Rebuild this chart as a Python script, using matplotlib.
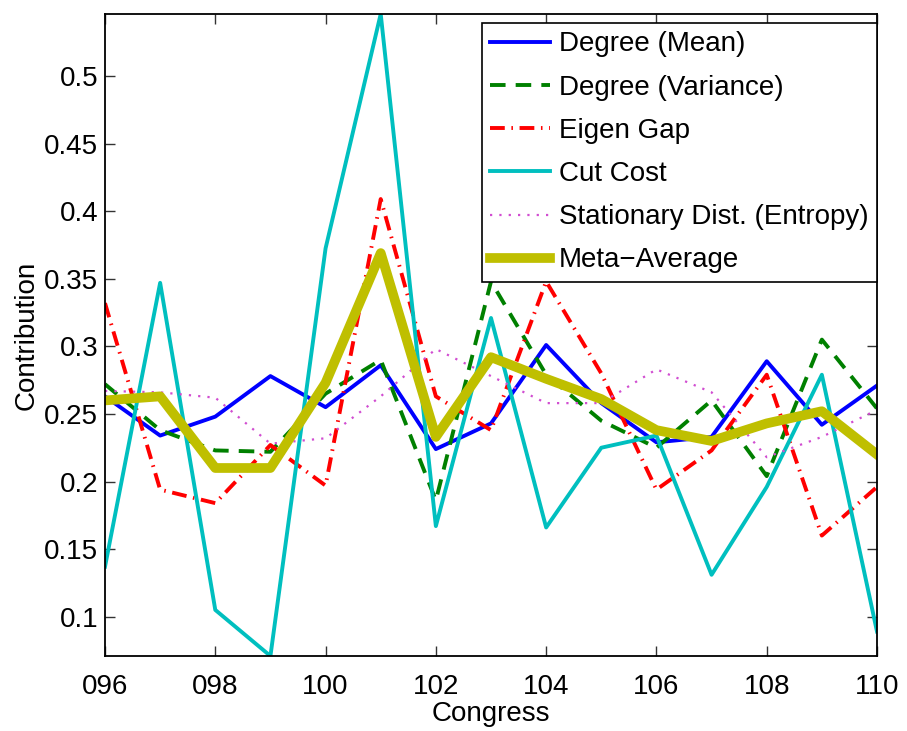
import numpy as np
import matplotlib
matplotlib.use("Agg")
import matplotlib.pyplot as plt

plt.rcParams['font.family'] = ['Liberation Sans', 'DejaVu Sans']

congress = np.arange(96, 111)
deg_mean = [0.263, 0.234, 0.248, 0.278, 0.255, 0.286, 0.224, 0.243, 0.301, 0.258,
            0.229, 0.233, 0.289, 0.242, 0.271]
deg_var = [0.272, 0.238, 0.223, 0.222, 0.265, 0.290, 0.186, 0.348, 0.279, 0.245,
           0.225, 0.260, 0.204, 0.305, 0.254]
eigen_gap = [0.332, 0.194, 0.184, 0.227, 0.197, 0.409, 0.263, 0.238, 0.348, 0.280,
             0.194, 0.223, 0.279, 0.160, 0.196]
cut_cost = [0.137, 0.347, 0.105, 0.0709, 0.3725, 0.5459, 0.167, 0.321, 0.166, 0.225,
            0.234, 0.131, 0.196, 0.279, 0.089]
stat_dist = [0.267, 0.266, 0.262, 0.228, 0.232, 0.263, 0.298, 0.278, 0.258, 0.258,
             0.283, 0.266, 0.218, 0.233, 0.253]
meta_avg = [0.260, 0.263, 0.210, 0.210, 0.273, 0.369, 0.233, 0.292, 0.276, 0.261,
            0.238, 0.230, 0.243, 0.252, 0.220]

labels = ['Degree (Mean)', 'Degree (Variance)', 'Eigen Gap', 'Cut Cost',
          'Stationary Dist. (Entropy)', 'Meta\u2212Average']

fig = plt.figure(figsize=(9.07, 7.31), dpi=100)
ax = fig.add_axes([105/907, 1-656/731, 772/907, 642/731])

ax.plot(congress, deg_mean, color='b', lw=2.8, label=labels[0])
ax.plot(congress, deg_var, color=(0, 0.5, 0), lw=2.8, ls=(0, (4, 2.6)), label=labels[1])
ax.plot(congress, eigen_gap, color='r', lw=2.8, ls=(0, (3.8, 1.7, 0.4, 1.7)), label=labels[2])
ax.plot(congress, cut_cost, color=(0, 0.75, 0.75), lw=2.8, label=labels[3])
ax.plot(congress, stat_dist, color=(0.82, 0.3, 0.82), lw=1.6, ls=(0, (1, 3.2)), label=labels[4])
ax.plot(congress, meta_avg, color=(0.75, 0.75, 0), lw=7, label=labels[5])

ax.set_xlim(96, 110)
ax.set_ylim(min(cut_cost), max(cut_cost))
ax.set_xticks(np.arange(96, 111, 2))
ax.set_xticklabels(['%03d' % c for c in range(96, 111, 2)])
ax.set_yticks([0.1, 0.15, 0.2, 0.25, 0.3, 0.35, 0.4, 0.45, 0.5])
ax.set_yticklabels(['0.1', '0.15', '0.2', '0.25', '0.3', '0.35', '0.4', '0.45', '0.5'])
ax.tick_params(direction='in', length=7, width=1, top=True, right=True,
               labelsize=20, color='#333333')
ax.tick_params(axis='x', pad=13)
ax.tick_params(axis='y', pad=5)
for s in ax.spines.values():
    s.set_linewidth(1.3)

ax.set_xlabel('Congress', fontsize=20, labelpad=1)
ax.set_ylabel('Contribution', fontsize=20, labelpad=3)

leg = ax.legend(loc='upper right', bbox_to_anchor=(1.0, 1 - 9/642), borderaxespad=0,
                fontsize=20, fancybox=False, framealpha=1, edgecolor='black',
                handlelength=2.15, handletextpad=0.32, labelspacing=0.62, borderpad=0.3)
leg.get_frame().set_linewidth(1.2)

fig.savefig('out.png', dpi=100)
